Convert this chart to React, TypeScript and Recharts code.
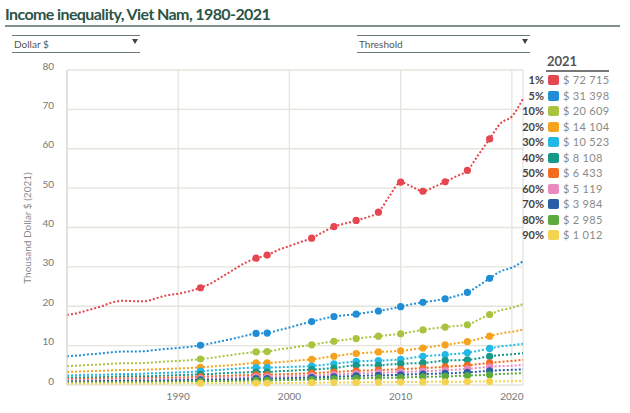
import React from 'react';
import { LineChart, Line, XAxis, YAxis, CartesianGrid } from 'recharts';

const years = [
  1980, 1981, 1982, 1983, 1984, 1985, 1986, 1987, 1988, 1989,
  1990, 1991, 1992, 1993, 1994, 1995, 1996, 1997, 1998, 1999,
  2000, 2001, 2002, 2003, 2004, 2005, 2006, 2007, 2008, 2009,
  2010, 2011, 2012, 2013, 2014, 2015, 2016, 2017, 2018, 2019,
  2020, 2021,
];

const surveyYears = [1992, 1997, 1998, 2002, 2004, 2006, 2008, 2010, 2012, 2014, 2016, 2018];

const p1 = [
  17.8, 18.3, 19.1, 19.9, 20.9, 21.4, 21.3, 21.3, 22.0, 22.8,
  23.2, 23.8, 24.7, 25.9, 27.6, 29.3, 31.0, 32.2, 33.0, 34.3,
  35.3, 36.3, 37.3, 38.8, 40.2, 41.0, 41.8, 42.6, 43.9, 48.0,
  51.5, 50.4, 49.2, 50.3, 51.6, 53.0, 54.5, 58.5, 62.5, 66.5,
  68.2, 72.7,
];
const p5 = [
  7.3, 7.5, 7.8, 8.0, 8.3, 8.5, 8.5, 8.6, 8.9, 9.2,
  9.4, 9.7, 10.1, 10.6, 11.2, 11.8, 12.5, 13.1, 13.2, 13.9,
  14.6, 15.4, 16.1, 16.8, 17.4, 17.7, 18.0, 18.4, 18.8, 19.3,
  19.9, 20.5, 21.0, 21.4, 21.9, 22.6, 23.5, 25.2, 27.1, 28.9,
  29.8, 31.4,
];
const p10 = [
  4.8, 4.9, 5.1, 5.2, 5.4, 5.5, 5.5, 5.6, 5.8, 6.0,
  6.1, 6.3, 6.6, 6.9, 7.3, 7.7, 8.1, 8.4, 8.5, 9.0,
  9.4, 9.8, 10.2, 10.7, 11.1, 11.5, 11.8, 12.1, 12.4, 12.7,
  13.0, 13.5, 14.0, 14.4, 14.7, 15.0, 15.3, 16.6, 17.9, 19.0,
  19.6, 20.6,
];
const p20 = [
  3.3, 3.4, 3.5, 3.6, 3.7, 3.8, 3.8, 3.9, 4.0, 4.1,
  4.2, 4.3, 4.5, 4.7, 4.9, 5.1, 5.4, 5.6, 5.6, 5.8,
  6.0, 6.3, 6.5, 6.9, 7.3, 7.7, 8.0, 8.2, 8.4, 8.5,
  8.7, 9.0, 9.4, 9.8, 10.2, 10.6, 11.0, 11.7, 12.4, 13.1,
  13.5, 14.1,
];
const p30 = [
  2.4, 2.5, 2.6, 2.6, 2.7, 2.8, 2.8, 2.9, 3.0, 3.1,
  3.2, 3.3, 3.5, 3.7, 3.9, 4.1, 4.3, 4.4, 4.4, 4.5,
  4.6, 4.7, 4.8, 5.1, 5.4, 5.7, 6.0, 6.1, 6.2, 6.3,
  6.5, 6.9, 7.3, 7.5, 7.7, 7.9, 8.2, 8.7, 9.3, 9.8,
  10.1, 10.5,
];
const p40 = [
  1.9, 1.9, 2.0, 2.0, 2.1, 2.2, 2.2, 2.2, 2.3, 2.4,
  2.5, 2.6, 2.7, 2.8, 3.0, 3.1, 3.2, 3.3, 3.3, 3.5,
  3.6, 3.8, 3.9, 4.1, 4.3, 4.7, 5.0, 5.0, 5.0, 5.2,
  5.4, 5.5, 5.6, 5.9, 6.2, 6.3, 6.4, 6.8, 7.3, 7.6,
  7.8, 8.1,
];
const p50 = [
  1.5, 1.5, 1.6, 1.6, 1.7, 1.7, 1.7, 1.8, 1.8, 1.9,
  1.9, 2.0, 2.1, 2.2, 2.3, 2.4, 2.5, 2.6, 2.6, 2.7,
  2.8, 2.9, 3.0, 3.15, 3.3, 3.45, 3.6, 3.7, 3.8, 3.9,
  4.0, 4.15, 4.3, 4.45, 4.6, 4.8, 5.0, 5.3, 5.6, 5.9,
  6.1, 6.4,
];
const p60 = [
  1.2, 1.2, 1.25, 1.3, 1.35, 1.4, 1.4, 1.4, 1.45, 1.5,
  1.55, 1.6, 1.7, 1.8, 1.85, 1.9, 2.0, 2.1, 2.1, 2.2,
  2.25, 2.3, 2.4, 2.5, 2.65, 2.8, 2.9, 3.0, 3.1, 3.2,
  3.3, 3.4, 3.5, 3.6, 3.75, 3.9, 4.1, 4.35, 4.6, 4.8,
  4.9, 5.1,
];
const p70 = [
  0.9, 0.9, 0.95, 1.0, 1.0, 1.05, 1.05, 1.05, 1.1, 1.15,
  1.2, 1.25, 1.3, 1.35, 1.4, 1.45, 1.55, 1.6, 1.6, 1.7,
  1.75, 1.8, 1.9, 2.0, 2.1, 2.2, 2.3, 2.4, 2.45, 2.5,
  2.6, 2.7, 2.8, 2.85, 2.95, 3.05, 3.2, 3.4, 3.6, 3.75,
  3.85, 3.98,
];
const p80 = [
  0.65, 0.65, 0.7, 0.7, 0.72, 0.75, 0.75, 0.76, 0.8, 0.82,
  0.85, 0.9, 0.95, 1.0, 1.02, 1.06, 1.1, 1.15, 1.15, 1.22,
  1.28, 1.33, 1.4, 1.48, 1.55, 1.62, 1.7, 1.75, 1.8, 1.85,
  1.9, 1.98, 2.05, 2.1, 2.2, 2.28, 2.4, 2.5, 2.6, 2.8,
  2.9, 2.985,
];
const p90 = [
  0.35, 0.35, 0.36, 0.37, 0.38, 0.39, 0.39, 0.4, 0.4, 0.41,
  0.42, 0.43, 0.44, 0.45, 0.46, 0.47, 0.48, 0.5, 0.5, 0.52,
  0.54, 0.56, 0.58, 0.6, 0.62, 0.64, 0.66, 0.68, 0.7, 0.72,
  0.74, 0.76, 0.78, 0.8, 0.82, 0.84, 0.86, 0.88, 0.9, 0.94,
  0.97, 1.01,
];

const seriesKeys = ['p1', 'p5', 'p10', 'p20', 'p30', 'p40', 'p50', 'p60', 'p70', 'p80', 'p90'];
const seriesLabels = ['1%', '5%', '10%', '20%', '30%', '40%', '50%', '60%', '70%', '80%', '90%'];
const seriesValues = [p1, p5, p10, p20, p30, p40, p50, p60, p70, p80, p90];
const seriesColors = [
  '#e6464f', '#1f8ed6', '#a8c43f', '#f5a31c', '#24b8e4', '#14998a',
  '#f36b1f', '#e98bc0', '#2a5fa6', '#5caa3d', '#f4d352',
];
const legendValues = [
  '$ 72 715', '$ 31 398', '$ 20 609', '$ 14 104', '$ 10 523', '$ 8 108',
  '$ 6 433', '$ 5 119', '$ 3 984', '$ 2 985', '$ 1 012',
];

const xTicks = [1990, 2000, 2010, 2020];
const yTicks = [0, 10, 20, 30, 40, 50, 60, 70, 80];

const data = years.map((year, i) => {
  const row: Record<string, number> = { year };
  seriesKeys.forEach((k, j) => {
    row[k] = seriesValues[j][i];
  });
  return row;
});

const FONT = 'Lato, "Open Sans", sans-serif';

const makeDot = (color: string) => (props: any) => {
  const { cx, cy, payload, index } = props;
  if (!payload || !surveyYears.includes(payload.year) || cx == null || cy == null) {
    return <g key={`d-${index}`} />;
  }
  return <circle key={`d-${index}`} cx={cx} cy={cy} r={3.6} fill={color} stroke="none" />;
};

const YLabel = () => (
  <text
    x={27}
    y={228}
    transform="rotate(-90 27 228)"
    textAnchor="middle"
    dominantBaseline="central"
    fontFamily={FONT}
    fontSize={10}
    fill="#8a8a8a"
  >
    Thousand Dollar $ (2021)
  </text>
);

const Dropdown = ({ left, width, label }: { left: number; width: number; label: string }) => (
  <div
    style={{
      position: 'absolute',
      left,
      top: 35,
      width,
      height: 16,
      borderTop: '1.5px solid #6b7a76',
      borderBottom: '1.5px solid #6b7a76',
      boxSizing: 'content-box',
    }}
  >
    <span
      style={{
        position: 'absolute',
        left: 2,
        top: 2,
        fontFamily: FONT,
        fontSize: 10,
        color: '#555',
        lineHeight: '12px',
      }}
    >
      {label}
    </span>
    <span
      style={{
        position: 'absolute',
        right: 2,
        top: 3,
        width: 0,
        height: 0,
        borderLeft: '3px solid transparent',
        borderRight: '3px solid transparent',
        borderTop: '5px solid #444',
      }}
    />
  </div>
);

export default function App() {
  return (
    <div
      style={{
        position: 'absolute',
        left: 0,
        top: 0,
        width: 630,
        height: 413,
        background: '#ffffff',
        overflow: 'hidden',
      }}
    >
      <div
        style={{
          position: 'absolute',
          left: 5,
          top: 3,
          fontFamily: FONT,
          fontWeight: 700,
          fontSize: 16,
          letterSpacing: -0.6,
          lineHeight: '22px',
          color: '#2b5446',
          whiteSpace: 'nowrap',
        }}
      >
        Income inequality, Viet Nam, 1980-2021
      </div>
      <div
        style={{
          position: 'absolute',
          left: 5,
          top: 25,
          width: 615,
          height: 2,
          background: '#7e918d',
        }}
      />
      <Dropdown left={12} width={128} label="Dollar $" />
      <Dropdown left={357} width={173} label="Threshold" />

      <div style={{ position: 'absolute', left: 0, top: 0 }}>
        <LineChart
          width={630}
          height={413}
          data={data}
          margin={{ top: 70, right: 107, bottom: 8, left: 7 }}
        >
          <CartesianGrid stroke="#e4e4dd" strokeWidth={1.3} />
          <XAxis
            dataKey="year"
            type="number"
            domain={[1980, 2021]}
            ticks={xTicks}
            height={20}
            axisLine={false}
            tickLine={false}
            tickSize={0}
            tickMargin={8}
            tick={{ fontFamily: FONT, fontSize: 10, fill: '#777' }}
          />
          <YAxis
            type="number"
            domain={[0, 80]}
            ticks={yTicks}
            width={60}
            axisLine={{ stroke: '#dcdcd6', strokeWidth: 1.3 }}
            tickLine={false}
            tickSize={0}
            tickMargin={13}
            tick={{ fontFamily: FONT, fontSize: 10, fill: '#777', dy: -4 }}
            label={{ content: () => <YLabel /> }}
          />
          {seriesKeys.map((k, j) => (
            <Line
              key={k}
              type="monotone"
              dataKey={k}
              stroke={seriesColors[j]}
              strokeWidth={2}
              strokeDasharray="2 2"
              dot={makeDot(seriesColors[j])}
              activeDot={false}
              isAnimationActive={false}
            />
          ))}
        </LineChart>
      </div>

      <div
        style={{
          position: 'absolute',
          left: 547,
          top: 53,
          fontFamily: FONT,
          fontWeight: 700,
          fontSize: 13,
          lineHeight: '16px',
          color: '#555',
        }}
      >
        2021
      </div>
      <div
        style={{
          position: 'absolute',
          left: 546,
          top: 70,
          width: 63,
          height: 2,
          background: '#777',
        }}
      />
      {seriesLabels.map((lab, j) => (
        <div
          key={lab}
          style={{
            position: 'absolute',
            left: 500,
            top: 80 + j * 15.5 - 7,
            width: 130,
            height: 14,
          }}
        >
          <span
            style={{
              position: 'absolute',
              right: 130 - 44,
              top: 0,
              fontFamily: FONT,
              fontWeight: 700,
              fontSize: 11,
              lineHeight: '14px',
              color: '#444',
            }}
          >
            {lab}
          </span>
          <span
            style={{
              position: 'absolute',
              left: 48,
              top: 2,
              width: 11,
              height: 10,
              borderRadius: 2,
              background: seriesColors[j],
            }}
          />
          <span
            style={{
              position: 'absolute',
              left: 63,
              top: 0,
              fontFamily: FONT,
              fontSize: 11,
              lineHeight: '14px',
              color: '#8a8a8a',
              letterSpacing: 0.3,
              whiteSpace: 'nowrap',
            }}
          >
            {legendValues[j]}
          </span>
        </div>
      ))}
    </div>
  );
}
